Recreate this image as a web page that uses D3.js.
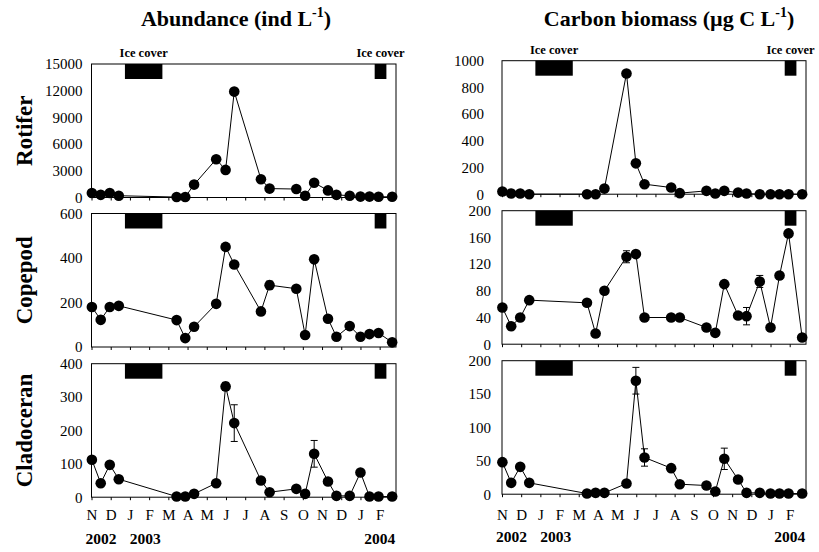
<!DOCTYPE html>
<html><head><meta charset="utf-8">
<script src="https://cdn.jsdelivr.net/npm/d3@7"></script>
<style>
body{margin:0;background:#fff}
text{font-family:"Liberation Serif","Times New Roman",serif;fill:#000}
</style>
</head><body>
<svg id="c" width="819" height="552"></svg>
<script>
// ---- data ----
const monthLabels = ["N","D","J","F","M","A","M","J","J","A","S","O","N","D","J","F"];
const yearLabels = ["2002","2003","2004"];
const yearAt = [0.5, 2.8, 15.0];            // months since Nov 2002
const sampleMonth = [0.02,0.48,0.95,1.42,4.43,4.88,5.34,6.49,6.98,7.43,8.82,9.27,10.66,11.12,11.59,12.31,12.75,13.44,14.0,14.47,14.94,15.65];
const iceStart = [1.74, 14.74];
const iceEnd   = [3.69, 15.35];
const groups = ["Rotifer","Copepod","Cladoceran"];

const abundRotifer  = [500,300,500,200,50,50,1450,4300,3100,11900,2050,1000,950,200,1650,800,300,200,100,100,80,80];
const abundCopepod  = [180,122,180,185,121,40,91,194,450,371,160,278,262,54,394,127,46,94,46,58,63,21];
const abundCopepodErr = [0,0,0,0,0,0,0,0,0,0,0,18,0,0,0,0,0,0,0,0,0,0];
const abundClad     = [112,42,97,54,2,2,10,42,332,222,50,15,25,10,130,47,4,4,74,2,2,2];
const abundCladErr  = [0,0,0,0,0,0,0,0,12,55,0,0,0,0,40,0,0,0,0,0,0,0];

const carbRotifer   = [20,5,5,0,0,0,42,904,231,75,50,8,25,5,25,12,5,0,0,0,0,0];
const carbCopepod   = [55,27,40,66,62,16,80,131,135,40,40,40,25,17,90,43,42,94,25,103,166,10];
const carbCopepodErr= [0,0,0,0,0,0,0,9,0,0,0,0,0,0,0,0,13,9,0,0,0,0];
const carbClad      = [48,17,41,17,1,2,2,16,170,55,39,15,13,4,53,22,2,2,1,1,1,1];
const carbCladErr   = [0,0,0,0,0,0,0,0,20,13,0,0,0,0,16,0,0,0,0,0,0,0];

const ticksAbundRot = [0,3000,6000,9000,12000,15000];
const ticksAbundCop = [0,200,400,600];
const ticksAbundCla = [0,100,200,300,400];
const ticksCarbRot  = [0,200,400,600,800,1000];
const ticksCarbCop  = [0,40,80,120,160,200];
const ticksCarbCla  = [0,50,100,150,200];

// ---- layout ----
const svg = d3.select("#c");
const H = 133.5;
const cols = [
  {x0:91.5, x1:396, tops:[64,213.5,363.7], pads:[9,9,9], monthPad:9, yearY:543.5, iceY:57,
   title:"Abundance (ind L", titleX:236,
   series:[
     {v:abundRotifer, e:null, t:ticksAbundRot},
     {v:abundCopepod, e:abundCopepodErr, t:ticksAbundCop},
     {v:abundClad, e:abundCladErr, t:ticksAbundCla}]},
  {x0:502, x1:806, tops:[60.7,210.7,360.7], pads:[18,11,11], monthPad:12, yearY:542, iceY:54,
   title:"Carbon biomass (\u00b5g C L", titleX:669,
   series:[
     {v:carbRotifer, e:null, t:ticksCarbRot},
     {v:carbCopepod, e:carbCopepodErr, t:ticksCarbCop},
     {v:carbClad, e:carbCladErr, t:ticksCarbCla}]}
];

cols.forEach((col, ci) => {
  const x = d3.scaleLinear().domain([0, 15.85]).range([col.x0, col.x1]);
  // title
  const tt = svg.append("text").attr("x", col.titleX).attr("y", 26)
    .attr("text-anchor","middle").attr("font-size",22).attr("font-weight","bold");
  tt.append("tspan").text(col.title);
  tt.append("tspan").attr("font-size",14).attr("dy",-9).text("-1");
  tt.append("tspan").attr("dy",9).text(")");

  col.series.forEach((s, ri) => {
    const top = col.tops[ri], bot = top + H;
    const ext = s.t[s.t.length-1];
    const y = d3.scaleLinear().domain([0, ext]).range([bot, top]);
    const g = svg.append("g");

    // y axis
    const ya = g.append("g").attr("transform",`translate(${col.x0},0)`)
      .call(d3.axisLeft(y).tickValues(s.t).tickSize(0).tickPadding(col.pads[ri]).tickFormat(d3.format("d")));
    ya.select(".domain").remove();
    ya.selectAll("text").attr("font-size",15).style("font-family",'"Liberation Serif",serif');

    // x axis
    const xa = g.append("g").attr("transform",`translate(0,${bot})`)
      .call(d3.axisBottom(x).tickValues(d3.range(monthLabels.length)).tickSize(3)
        .tickPadding(col.monthPad).tickFormat(i => ri === 2 ? monthLabels[i] : ""));
    xa.select(".domain").remove();
    xa.selectAll("line").attr("stroke","#000");
    xa.selectAll("text").attr("font-size",15).style("font-family",'"Liberation Serif",serif');

    // frame
    g.append("rect").attr("x",col.x0).attr("y",top).attr("width",col.x1-col.x0).attr("height",H)
      .attr("fill","none").attr("stroke","#000").attr("stroke-width",1);

    // ice cover bars
    g.selectAll(".ice").data(iceStart).enter().append("rect")
      .attr("x",(d,i)=>x(d)).attr("y",top)
      .attr("width",(d,i)=>x(iceEnd[i])-x(d)).attr("height",15).attr("fill","#000");
    if (ri === 0) {
      g.selectAll(".icel").data(iceStart).enter().append("text")
        .attr("x",(d,i)=>(x(d)+x(iceEnd[i]))/2).attr("y",col.iceY)
        .attr("text-anchor","middle").attr("font-size",12.5).attr("font-weight","bold")
        .text("Ice cover");
    }

    // line
    const pts = s.v.map((v,i)=>[sampleMonth[i], v]);
    g.append("path").datum(pts)
      .attr("d", d3.line().x(d=>x(d[0])).y(d=>y(d[1])))
      .attr("fill","none").attr("stroke","#000").attr("stroke-width",1);

    // error bars
    if (s.e) {
      const eb = pts.map((d,i)=>({m:d[0], v:d[1], e:s.e[i]})).filter(d=>d.e>0);
      const eg = g.selectAll(".eb").data(eb).enter().append("g");
      eg.append("line").attr("x1",d=>x(d.m)).attr("x2",d=>x(d.m))
        .attr("y1",d=>y(d.v+d.e)).attr("y2",d=>y(Math.max(0,d.v-d.e))).attr("stroke","#000");
      eg.append("line").attr("x1",d=>x(d.m)-3.5).attr("x2",d=>x(d.m)+3.5)
        .attr("y1",d=>y(d.v+d.e)).attr("y2",d=>y(d.v+d.e)).attr("stroke","#000");
      eg.append("line").attr("x1",d=>x(d.m)-3.5).attr("x2",d=>x(d.m)+3.5)
        .attr("y1",d=>y(Math.max(0,d.v-d.e))).attr("y2",d=>y(Math.max(0,d.v-d.e))).attr("stroke","#000");
    }

    // points
    g.selectAll(".pt").data(pts).enter().append("circle")
      .attr("cx",d=>x(d[0])).attr("cy",d=>y(d[1])).attr("r",5.3).attr("fill","#000");

    // row label
    if (ci === 0) {
      svg.append("text").attr("transform",`translate(32,${top+H/2}) rotate(-90)`)
        .attr("text-anchor","middle").attr("font-size",23).attr("font-weight","bold")
        .text(groups[ri]);
    }
  });

  // year labels
  svg.selectAll(null).data(yearLabels).enter().append("text")
    .attr("x",(d,i)=>x(yearAt[i])).attr("y",col.yearY)
    .attr("text-anchor","middle").attr("font-size",15.5).attr("font-weight","bold")
    .text(d=>d);
});
</script>
</body></html>
